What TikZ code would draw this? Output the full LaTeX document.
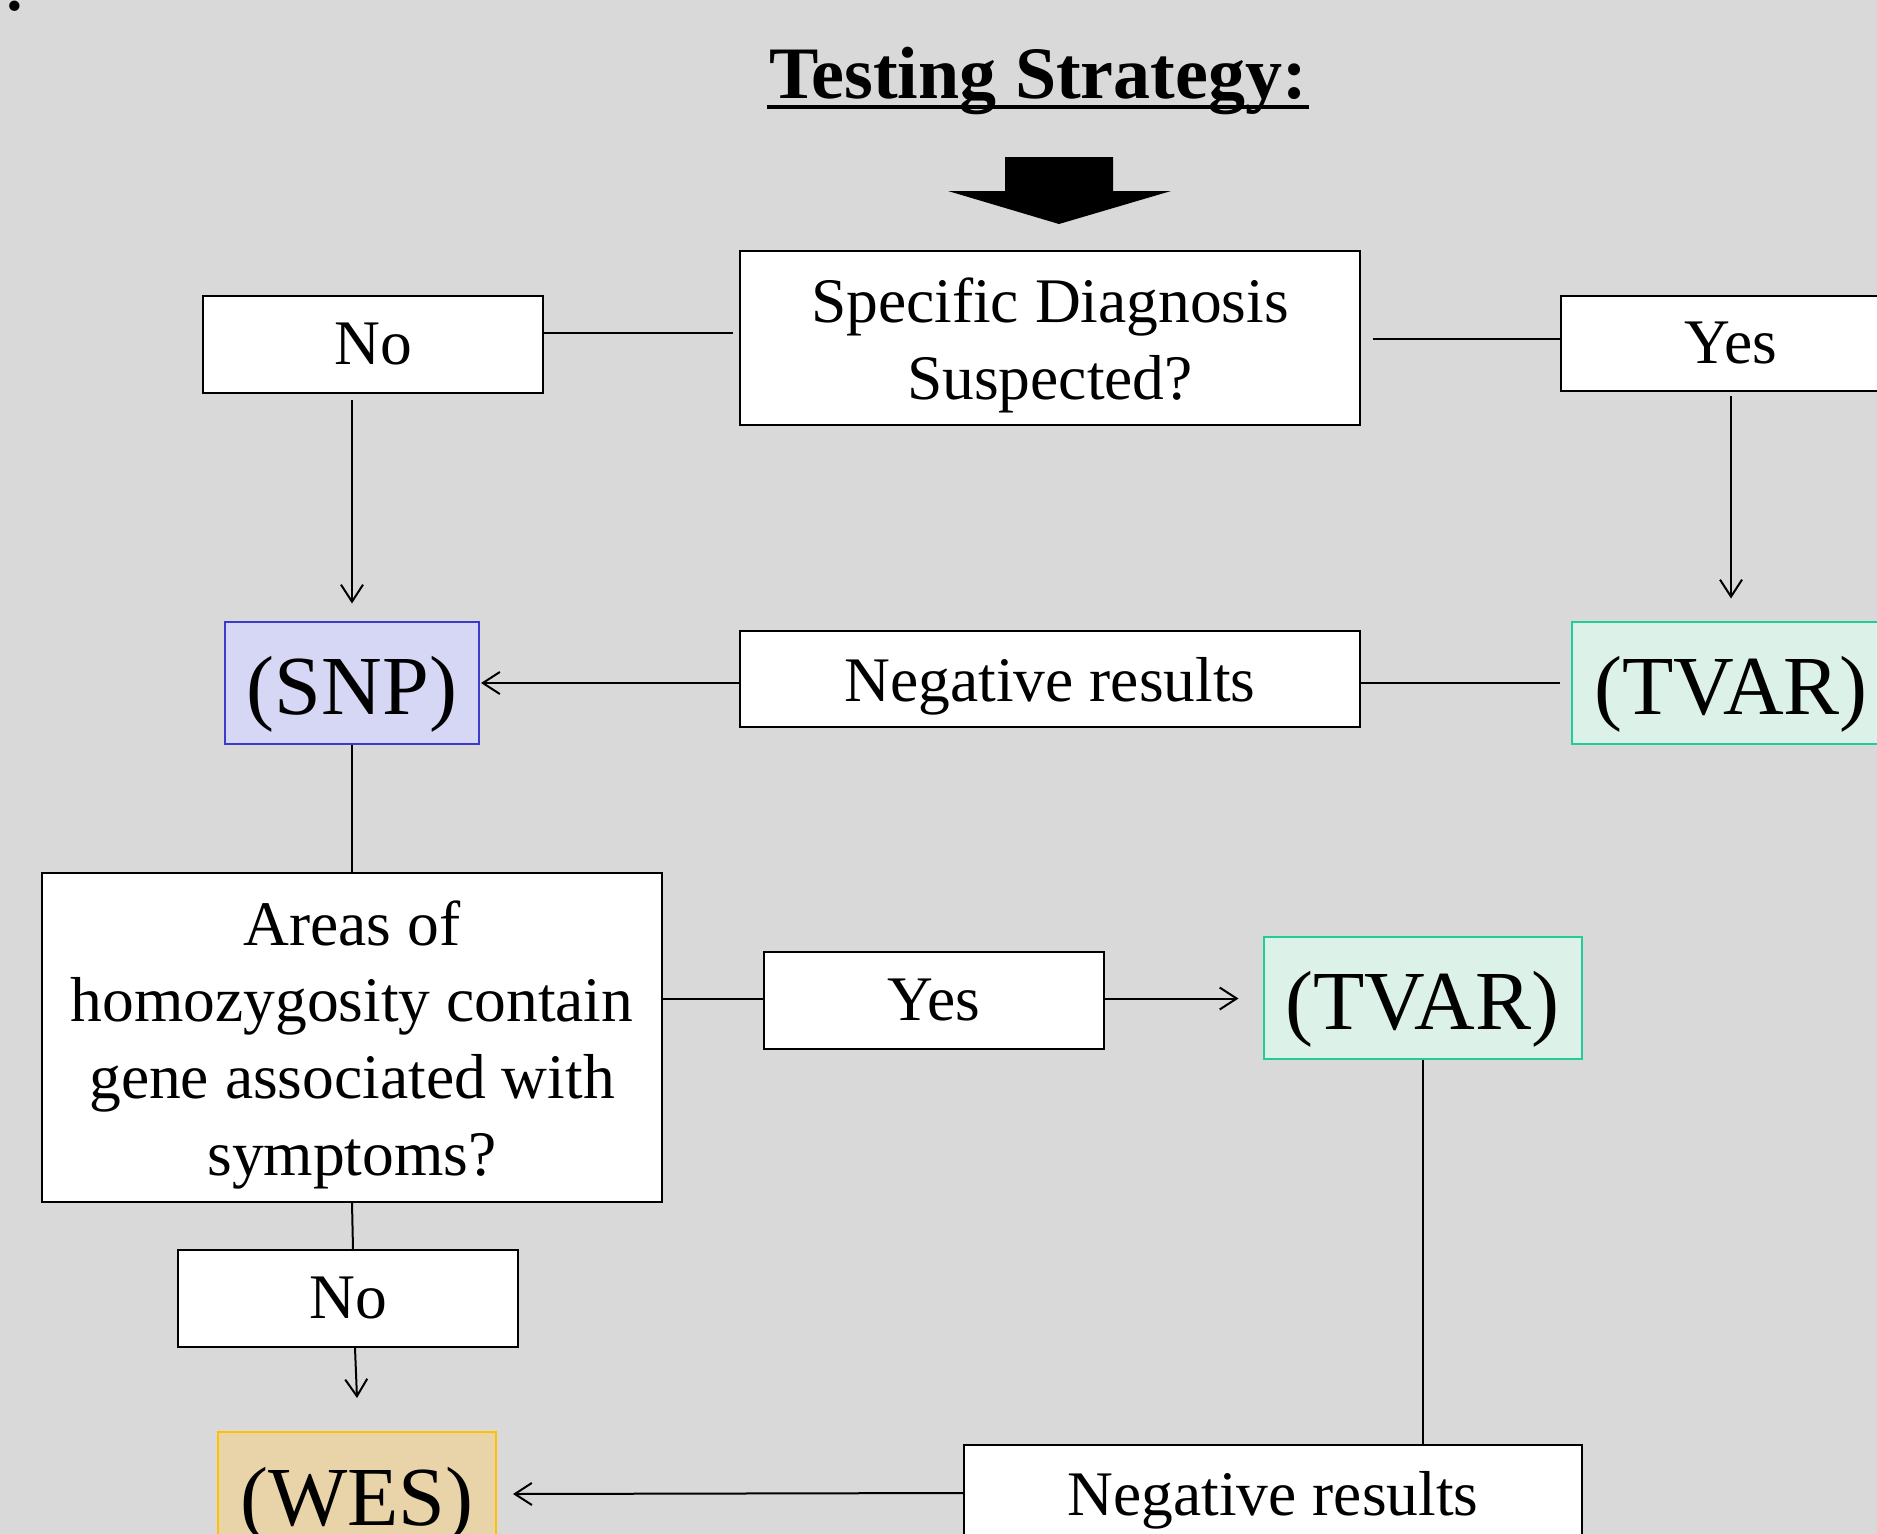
\documentclass[tikz,border=0pt]{standalone}
\usepackage{fontspec}
\setmainfont{Liberation Serif}
\usetikzlibrary{arrows.meta,calc}
\definecolor{bgc}{HTML}{D9D9D9}
\definecolor{snpfill}{HTML}{D6D6F5}
\definecolor{snpline}{HTML}{3C3CCC}
\definecolor{tvfill}{HTML}{DCF1E8}
\definecolor{tvline}{HTML}{22CC99}
\definecolor{wesfill}{HTML}{E8D4A8}
\definecolor{wesline}{HTML}{FFC000}
\newcommand{\myhstrut}{\rule{0pt}{60pt}}
\tikzset{
  wbox/.style={draw=black, fill=white, line width=2pt, inner sep=0pt, align=center,
    font=\fontsize{63.5}{76.7}\selectfont},
  flat/.style={text depth=0pt},
  bigbox/.style={line width=2pt, inner sep=0pt, minimum width=#1, minimum height=122pt,
    text height=72pt, text depth=8pt,
    font=\fontsize{84}{100}\selectfont},
  snpbox/.style={bigbox=254pt, draw=snpline, fill=snpfill},
  tvbox/.style={bigbox=318pt, draw=tvline, fill=tvfill},
  wesbox/.style={bigbox=278pt, draw=wesline, fill=wesfill},
  conn/.style={line width=2pt, draw=black},
  arr/.style={conn, -{Straight Barb[length=17pt,width=22pt,line width=2pt]}},
}
\begin{document}
\begin{tikzpicture}[x=1pt,y=-1pt]
\useasboundingbox (0,0) rectangle (1877,1534);
\fill[bgc] (0,0) rectangle (1877,1534);

% clipped text at top-left corner
\node[anchor=base, inner sep=0pt, font=\fontsize{63.5}{76}\selectfont\bfseries] (corner) at (15,10) {:};

% title
\node[anchor=base, inner sep=0pt, font=\fontsize{74}{88}\selectfont\bfseries] (title) at (1038,98) {Testing Strategy:};
\draw[line width=4pt] (767,107) -- (1309,107);

% big block arrow
\fill[black] (1005,157) -- (1113,157) -- (1113,191) -- (1171,191) -- (1059,224) -- (948,191) -- (1005,191) -- cycle;

% boxes
\node[wbox, minimum width=620pt, minimum height=174pt] (spec) at (1050,338)
  {\myhstrut Specific Diagnosis\\Suspected?};
\node[wbox, minimum width=340pt, minimum height=97pt] (noTop) at (373,344.5) {No};
\node[wbox, minimum width=340pt, minimum height=95pt] (yesTop) at (1731,343.5) {Yes};
\node[snpbox] (snp) at (352,682.5) {(SNP)};
\node[wbox, flat, minimum width=620pt, minimum height=96pt] (negMid) at (1050,679) {Negative results};
\node[tvbox] (tv1) at (1731,682.5) {(TVAR)};
\node[wbox, minimum width=620pt, minimum height=329pt] (areas) at (352,1037)
  {\myhstrut Areas of\\homozygosity contain\\gene associated with\\symptoms?};
\node[wbox, minimum width=340pt, minimum height=97pt] (yesMid) at (934,1000.5) {Yes};
\node[tvbox] (tv2) at (1422.5,997.5) {(TVAR)};
\node[wbox, minimum width=340pt, minimum height=97pt] (noBot) at (348,1298.5) {No};
\node[wesbox] (wes) at (357,1493) {(WES)};
\node[wbox, flat, minimum width=618pt, minimum height=96pt] (negBot) at (1273,1493) {Negative results};

% connectors
\coordinate (a1) at ($(spec.west)+(-6,-5)$);
\draw[conn] (a1) -- (a1 -| noTop.east);
\coordinate (a2) at ($(spec.east)+(12,1)$);
\draw[conn] (a2) -- (a2 -| yesTop.west);
\draw[arr] ($(snp.north |- noTop.south)+(0,6)$) -- ($(snp.north)+(0,-17)$);
\draw[arr] ($(yesTop.south)+(0,4)$) -- ($(tv1.north)+(0,-22)$);
\coordinate (a3) at ($(negMid.west)+(0,4)$);
\draw[arr] (a3) -- ($(a3 -| snp.east)+(1,0)$);
\coordinate (a4) at ($(tv1.west)+(-11,0)$);
\draw[conn] (a4) -- (a4 -| negMid.east);
\draw[conn] (snp.south) -- (areas.north);
\coordinate (a5) at ($(yesMid.west)+(0,-2)$);
\draw[conn] (a5 -| areas.east) -- (a5);
\coordinate (a6) at ($(yesMid.east)+(0,-2)$);
\draw[arr] (a6) -- ($(a6 -| tv2.west)+(-24,0)$);
\draw[conn] (tv2.south) -- (tv2.south |- negBot.north);
\draw[conn] (areas.south) -- ($(noBot.north)+(5,0)$);
\draw[arr] ($(noBot.south)+(7,0)$) -- ($(wes.north)+(0,-33)$);
\coordinate (a7) at (negBot.west);
\draw[arr] (a7) -- ($(a7 -| wes.east)+(16,1)$);
\end{tikzpicture}
\end{document}
